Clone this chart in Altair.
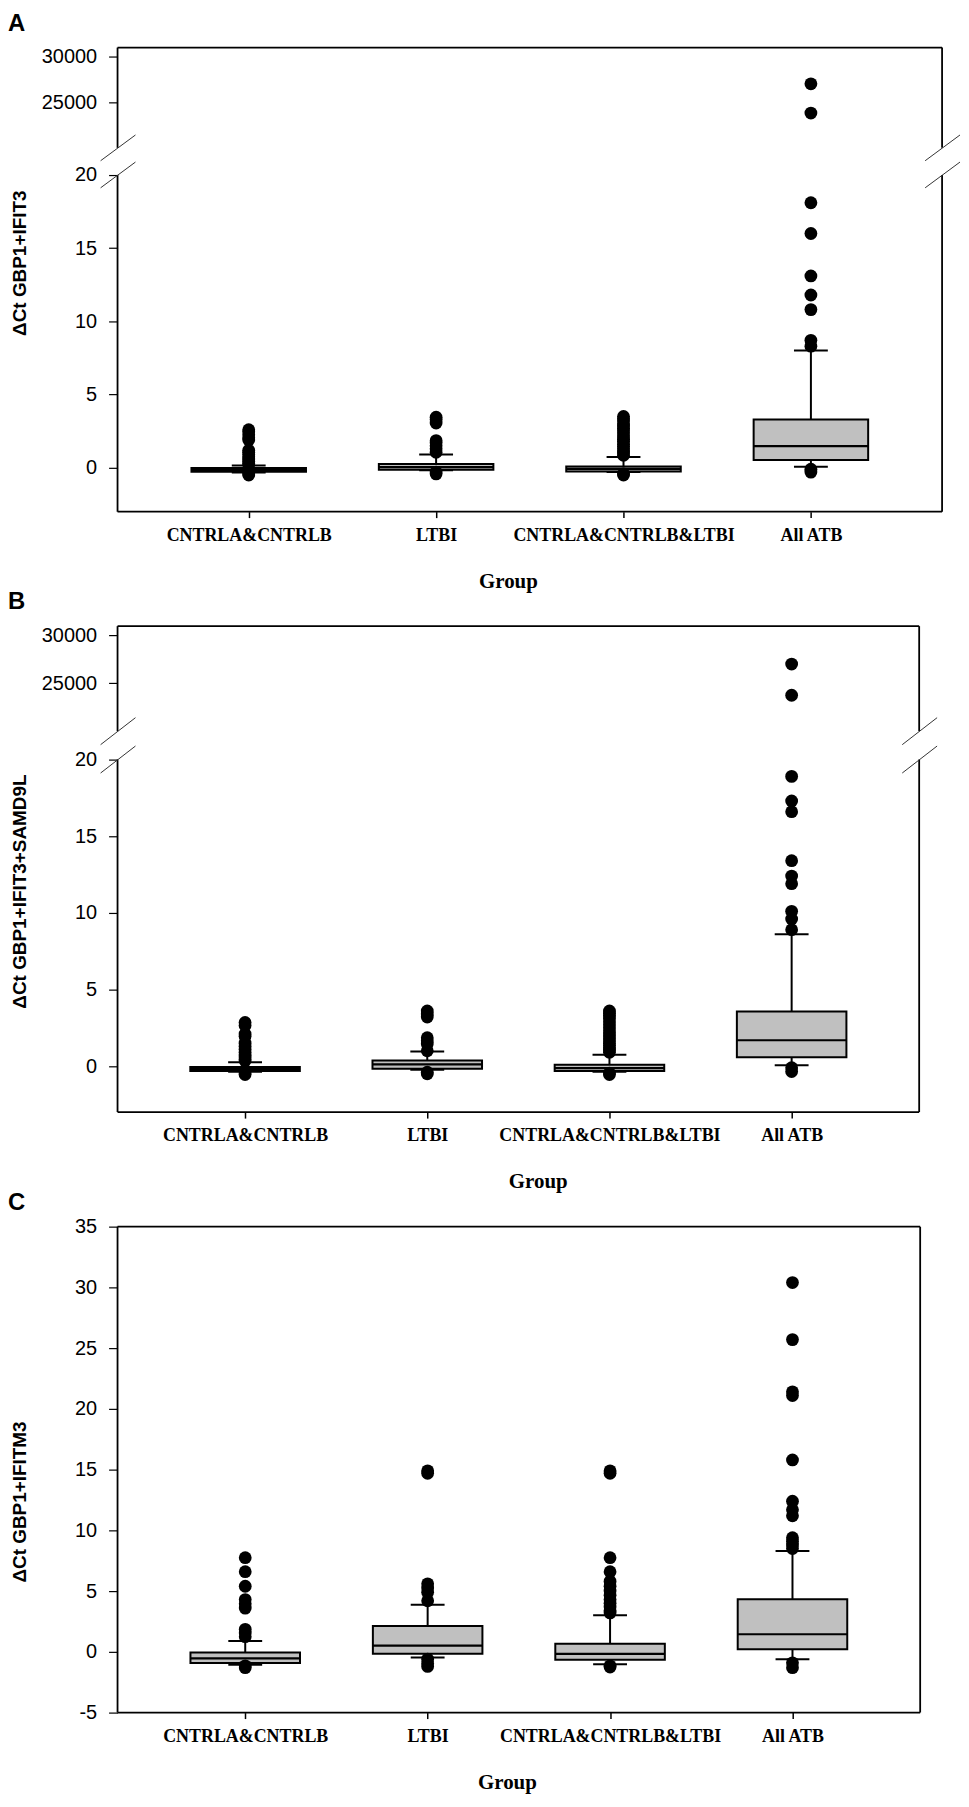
import altair as alt
import pandas as pd

GROUPS = ["CNTRLA&CNTRLB", "LTBI", "CNTRLA&CNTRLB&LTBI", "All ATB"]

# ---- Panel A : dCt GBP1+IFIT3 (broken axis) ----
A_Q1 = [-0.28, -0.14, -0.26, 0.53]
A_MED = [-0.17, 0.04, -0.08, 1.48]
A_Q3 = [-0.02, 0.25, 0.08, 3.30]
A_LO = [-0.32, -0.17, -0.30, 0.07]
A_HI = [0.16, 0.90, 0.74, 8.0]
A_OUT = [
    [2.6, 2.45, 2.25, 2.05, 1.9, 1.2, 1.05, 0.9, 0.75, 0.6, 0.45, 0.3, 0.2, -0.42, -0.5],
    [3.45, 3.3, 3.05, 1.85, 1.7, 1.5, 1.3, 1.05, -0.3, -0.42],
    [3.5, 3.35, 3.2, 3.0, 2.85, 2.7, 2.5, 2.3, 2.1, 1.95, 1.8, 1.6, 1.45, 1.3, 1.15, 1.0, 0.85, -0.42, -0.5],
    [27000, 23800, 18.1, 16.0, 13.1, 11.8, 10.8, 8.7, 8.3, -0.1, -0.3],
]

# ---- Panel B : dCt GBP1+IFIT3+SAMD9L (broken axis) ----
B_Q1 = [-0.32, -0.17, -0.32, 0.58]
B_MED = [-0.20, 0.11, -0.13, 1.69]
B_Q3 = [-0.06, 0.37, 0.09, 3.57]
B_LO = [-0.36, -0.24, -0.36, 0.06]
B_HI = [0.26, 0.95, 0.74, 8.6]
B_OUT = [
    [2.85, 2.65, 2.1, 1.95, 1.5, 1.3, 1.1, 0.9, 0.75, 0.6, 0.45, 0.35, -0.45, -0.55],
    [3.6, 3.4, 3.2, 1.85, 1.65, 1.45, 1.0, -0.4, -0.5],
    [3.6, 3.45, 3.3, 3.1, 2.9, 2.7, 2.5, 2.3, 2.1, 1.9, 1.7, 1.5, 1.35, 1.2, 1.05, 0.9, -0.45, -0.55],
    [27000, 23750, 18.9, 17.3, 16.6, 13.4, 12.4, 11.9, 10.1, 9.6, 8.9, -0.1, -0.35],
]

# ---- Panel C : dCt GBP1+IFITM3 ----
C_Q1 = [-0.91, -0.16, -0.65, 0.21]
C_MED = [-0.54, 0.51, -0.16, 1.45]
C_Q3 = [-0.05, 2.12, 0.66, 4.33]
C_LO = [-1.06, -0.46, -1.03, -0.61]
C_HI = [0.89, 3.88, 3.02, 8.31]
C_OUT = [
    [7.75, 6.6, 5.4, 4.3, 3.95, 3.6, 1.85, 1.55, 1.25, -1.15, -1.3],
    [14.9, 14.7, 5.6, 5.25, 4.9, 4.2, -0.6, -0.95, -1.2],
    [14.9, 14.7, 7.75, 6.6, 5.8, 5.4, 5.0, 4.65, 4.3, 4.0, 3.7, 3.4, 3.2, -1.15, -1.25],
    [30.4, 25.7, 21.4, 21.1, 15.8, 12.4, 11.7, 11.2, 9.4, 9.1, 8.8, 8.5, -0.9, -1.3],
]

# broken-axis parameters (display units = lower segment units)
LOW_TOP = 20
HIGH_BOTTOM = 20000
GAP = 1.85
K = 0.000625
BROKEN_DOMAIN = [-3, 28.7]


def disp(v):
    return LOW_TOP + GAP + (v - HIGH_BOTTOM) * K if v > LOW_TOP else v


def expr(field, broken):
    if broken:
        return (f"datum.{field} > {LOW_TOP} ? {LOW_TOP + GAP} + (datum.{field} - {HIGH_BOTTOM}) * {K}"
                f" : datum.{field}")
    return f"datum.{field}"


def panel(letter, ytitle, q1, med, q3, lo, hi, outs, W, H, box, broken, title_y, group_x):
    stats = pd.DataFrame(dict(group=GROUPS, q1=q1, med=med, q3=q3, lo=lo, hi=hi))
    pts = pd.DataFrame([(g, v) for g, vals in zip(GROUPS, outs) for v in vals], columns=["group", "v"])

    if broken:
        dom = BROKEN_DOMAIN
        tickvals = [0, 5, 10, 15, 20, disp(25000), disp(30000)]
        labexpr = (f"datum.value > {LOW_TOP + 1} ? format(round((datum.value - {LOW_TOP + GAP}) / {K} + {HIGH_BOTTOM}), 'd')"
                   f" : replace(format(datum.value, 'd'), '\u2212', '-')")
    else:
        dom = [-5, 35]
        tickvals = [-5, 0, 5, 10, 15, 20, 25, 30, 35]
        labexpr = "replace(format(datum.value, 'd'), '\u2212', '-')"

    yscale = alt.Scale(domain=dom, nice=False, zero=False)
    yaxis = alt.Axis(values=tickvals, labelExpr=labexpr, grid=False, domain=False,
                     tickSize=9, tickColor="black", tickWidth=1.2,
                     labelFont="Liberation Sans", labelFontSize=20, labelColor="black", labelPadding=12,
                     titleFont="Liberation Sans", titleFontSize=19, titleFontWeight="bold",
                     titleColor="black", titleAngle=270, titleX=-88, titleY=title_y,
                     titleAlign="center", titleBaseline="bottom")

    def Y(f):
        return alt.Y(f"{f}:Q", scale=yscale, axis=yaxis, title=ytitle)

    def Y2(f):
        return alt.Y2(f"{f}:Q")

    xaxis = alt.Axis(labelAngle=0, domain=False, grid=False, tickSize=6, tickColor="black",
                     tickWidth=1.5,
                     labelFont="Liberation Serif", labelFontWeight="bold", labelFontSize=18,
                     labelColor="black", labelBaseline="alphabetic", labelPadding=23, labelLimit=0,
                     titleFont="Liberation Serif", titleFontWeight="bold", titleFontSize=21,
                     titleColor="black", titleX=group_x, titleY=76, titleBaseline="alphabetic",
                     titleAlign="center")
    X = alt.X("group:N", scale=alt.Scale(type="point", padding=0.7, domain=GROUPS),
              axis=xaxis, title="Group")

    base = alt.Chart(stats).transform_calculate(
        q1d=expr("q1", broken), medd=expr("med", broken), q3d=expr("q3", broken),
        lod=expr("lo", broken), hid=expr("hi", broken))

    whisk_up = base.mark_rule(color="black", strokeWidth=2).encode(x=X, y=Y("q3d"), y2=Y2("hid"))
    whisk_lo = base.mark_rule(color="black", strokeWidth=2).encode(x=X, y=Y("lod"), y2=Y2("q1d"))
    boxes = base.mark_bar(size=box, color="#c0c0c0", stroke="black", strokeWidth=2,
                          opacity=1).encode(x=X, y=Y("q1d"), y2=Y2("q3d"))
    medians = base.mark_tick(size=box, thickness=2.2, color="black", opacity=1).encode(
        x=X, y=Y("medd"))
    cap_hi = base.mark_tick(size=34, thickness=2, color="black", opacity=1).encode(
        x=X, y=Y("hid"))
    cap_lo = base.mark_tick(size=34, thickness=2, color="black", opacity=1).encode(
        x=X, y=Y("lod"))
    points = alt.Chart(pts).transform_calculate(vd=expr("v", broken)).mark_point(
        filled=True, shape="circle", size=165, color="black", opacity=1).encode(x=X, y=Y("vd"))

    one = alt.Data(values=[{"k": 1}])
    frame_col = "black"
    layers = [whisk_up, whisk_lo, boxes, medians, cap_hi, cap_lo, points]
    layers.append(alt.Chart(one).mark_rule(color=frame_col, strokeWidth=1.8).encode(
        x=alt.value(0), x2=alt.value(W), y=alt.value(0)))
    layers.append(alt.Chart(one).mark_rule(color=frame_col, strokeWidth=1.8).encode(
        x=alt.value(0), x2=alt.value(W), y=alt.value(H)))

    def ydat(v):
        return alt.YDatum(v, scale=yscale, axis=yaxis, title=ytitle)

    def y2dat(v):
        return alt.Y2Datum(v)

    if broken:
        lo_end = LOW_TOP
        hi_start = LOW_TOP + GAP
        for xe in (0, W):
            layers.append(alt.Chart(one).mark_rule(color=frame_col, strokeWidth=1.8).encode(
                x=alt.value(xe), y=ydat(dom[0]), y2=y2dat(lo_end)))
            layers.append(alt.Chart(one).mark_rule(color=frame_col, strokeWidth=1.8).encode(
                x=alt.value(xe), y=ydat(hi_start), y2=y2dat(dom[1])))
            for c in (lo_end, hi_start):
                layers.append(alt.Chart(one).mark_rule(color="#333333", strokeWidth=1).encode(
                    x=alt.value(xe - 17), x2=alt.value(xe + 18),
                    y=ydat(c - 0.88), y2=y2dat(c + 0.88)))
    else:
        for xe in (0, W):
            layers.append(alt.Chart(one).mark_rule(color=frame_col, strokeWidth=1.8).encode(
                x=alt.value(xe), y=alt.value(0), y2=alt.value(H)))

    layers.append(alt.Chart(one).mark_text(
        text=letter, font="Liberation Sans", fontSize=24, fontWeight="bold",
        align="left", baseline="alphabetic", color="black").encode(
        x=alt.value(-110), y=alt.value(-17)))

    return alt.layer(*layers).properties(width=W, height=H)


pA = panel("A", "\u0394Ct GBP1+IFIT3", A_Q1, A_MED, A_Q3, A_LO, A_HI, A_OUT,
           828, 466, 115, True, 216, 392)
pB = panel("B", "\u0394Ct GBP1+IFIT3+SAMD9L", B_Q1, B_MED, B_Q3, B_LO, B_HI, B_OUT,
           805, 488, 110, True, 266, 422)
pC = panel("C", "\u0394Ct GBP1+IFITM3", C_Q1, C_MED, C_Q3, C_LO, C_HI, C_OUT,
           806, 488, 110, False, 276, 391)

chart = alt.vconcat(pA, pB, pC, spacing=115, bounds="flush").properties(
    padding=0, background="white"
).configure_view(stroke=None)

chart.save("out.html", embed_options={"renderer": "svg", "actions": False})
